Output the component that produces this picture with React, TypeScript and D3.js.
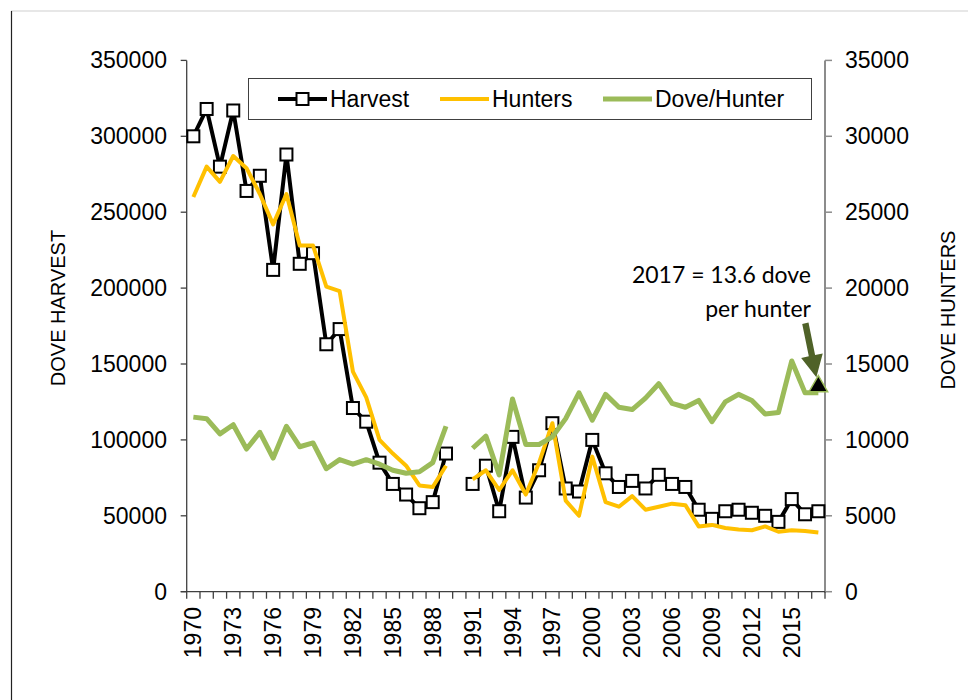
import React from 'react';
import * as d3 from 'd3';

const years = [1970,1971,1972,1973,1974,1975,1976,1977,1978,1979,1980,1981,1982,1983,1984,1985,1986,1987,1988,1989,1990,1991,1992,1993,1994,1995,1996,1997,1998,1999,2000,2001,2002,2003,2004,2005,2006,2007,2008,2009,2010,2011,2012,2013,2014,2015,2016,2017];

const harvest: (number | null)[] = [300000,318000,280000,317000,264000,274000,212000,288000,216000,223000,163000,173000,121000,112000,85000,71000,64000,55000,59000,91000,null,71000,83000,53000,102000,62000,80000,111000,68000,66000,100000,78000,69000,73000,68000,77000,71000,69000,54000,48000,53000,54000,52000,50000,46000,61000,51000,53000];

const hunters: (number | null)[] = [26000,28000,27000,28700,27900,26200,24200,26200,22800,22800,20100,19800,14500,12800,10000,9100,8300,7000,6900,8300,null,7400,8000,6700,8000,6400,8500,11100,6000,5000,8900,5900,5600,6300,5400,5600,5800,5700,4300,4400,4200,4100,4050,4300,3950,4050,4000,3900];

const dovePerHunter: (number | null)[] = [11.5,11.4,10.4,11.0,9.4,10.5,8.8,10.9,9.55,9.8,8.1,8.7,8.4,8.7,8.4,8.0,7.8,7.9,8.5,10.9,null,9.45,10.25,7.7,12.7,9.7,9.7,10.2,11.4,13.1,11.3,13.0,12.15,12.0,12.75,13.7,12.4,12.15,12.6,11.2,12.5,13.0,12.6,11.7,11.8,15.2,13.1,13.1];

const highlightYear = 2017;
const highlightValue = 13.6;

const leftTicks = [0,50000,100000,150000,200000,250000,300000,350000];
const rightTicks = [0,5000,10000,15000,20000,25000,30000,35000];
const labelYears = [1970,1973,1976,1979,1982,1985,1988,1991,1994,1997,2000,2003,2006,2009,2012,2015];

const legendItems = ['Harvest', 'Hunters', 'Dove/Hunter'];
const annotationLines = ['2017 = 13.6 dove', 'per hunter'];

const FONT = '"Liberation Sans", Arial, sans-serif';

export default function App() {
  const W = 968, H = 700;
  const plotL = 186.7, plotR = 825, plotT = 60.4, plotB = 591.7;
  const x = d3.scaleBand<number>().domain(years).range([plotL, plotR]).padding(0);
  const cx = (yr: number) => (x(yr) as number) + x.bandwidth() / 2;
  const yL = d3.scaleLinear().domain([0, 350000]).range([plotB, plotT]);
  const yR = d3.scaleLinear().domain([0, 35000]).range([plotB, plotT]);

  const mk = (vals: (number | null)[], sc: (v: number) => number) =>
    d3.line<number | null>()
      .defined((d) => d !== null)
      .x((_, i) => cx(years[i]))
      .y((d) => sc(d as number))(vals) || '';

  const harvestPath = mk(harvest, yL);
  const huntersPath = mk(hunters, yR);
  const dovePath = mk(dovePerHunter, (v) => yR(v * 1000));

  const triX = cx(highlightYear);
  const triY = yR(highlightValue * 1000);
  const triSym = d3.symbol().type(d3.symbolTriangle).size(150)() || '';

  // arrow
  const arrowStart = { x: triX - 13, y: triY - 62 };
  const arrowEnd = { x: triX - 2, y: triY - 8 };
  const ang = Math.atan2(arrowEnd.y - arrowStart.y, arrowEnd.x - arrowStart.x);
  const headLen = 22, headW = 11, shaftW = 3.2;
  const ux = Math.cos(ang), uy = Math.sin(ang);
  const px = -uy, py = ux;
  const hb = { x: arrowEnd.x - ux * headLen, y: arrowEnd.y - uy * headLen };
  const arrowPts = [
    [arrowStart.x + px * shaftW, arrowStart.y + py * shaftW],
    [hb.x + px * shaftW, hb.y + py * shaftW],
    [hb.x + px * headW, hb.y + py * headW],
    [arrowEnd.x, arrowEnd.y],
    [hb.x - px * headW, hb.y - py * headW],
    [hb.x - px * shaftW, hb.y - py * shaftW],
    [arrowStart.x - px * shaftW, arrowStart.y - py * shaftW],
  ].map((p) => p.join(',')).join(' ');

  const legendY = 99;
  const legendX = [278, 440, 603];
  const legendColors = ['#000000', '#FFC000', '#9BBB59'];
  const legendWidths = [4, 4, 5];

  return (
    <div style={{ position: 'absolute', left: 0, top: 0, width: W, height: H, background: '#fff' }}>
      <svg width={W} height={H} style={{ display: 'block' }} fontFamily={FONT}>
        <rect x={0} y={0} width={W} height={H} fill="#fff" />
        {/* frame */}
        <line x1={11} y1={11} x2={W} y2={11} stroke="#d0d0d0" strokeWidth={1.2} />
        <line x1={11.5} y1={11} x2={11.5} y2={H} stroke="#222" strokeWidth={1.2} />

        {/* axes */}
        <line x1={plotL} y1={plotT} x2={plotL} y2={plotB} stroke="#404040" strokeWidth={1.3} />
        <line x1={plotR} y1={plotT} x2={plotR} y2={plotB + 1} stroke="#8c8c8c" strokeWidth={2} />
        <line x1={plotL - 6} y1={plotB} x2={plotR} y2={plotB} stroke="#404040" strokeWidth={1.3} />
        {leftTicks.map((t) => (
          <g key={'lt' + t}>
            <line x1={plotL - 6} x2={plotL} y1={yL(t)} y2={yL(t)} stroke="#404040" strokeWidth={1.3} />
            <text x={167} y={yL(t)} dy="0.35em" textAnchor="end" fontSize={23} fill="#000">{t}</text>
          </g>
        ))}
        {rightTicks.map((t) => (
          <g key={'rt' + t}>
            <line x1={plotR} x2={plotR + 7} y1={yR(t)} y2={yR(t)} stroke="#8c8c8c" strokeWidth={1.5} />
            <text x={845} y={yR(t)} dy="0.35em" textAnchor="start" fontSize={23} fill="#000">{t}</text>
          </g>
        ))}
        {years.concat([years[years.length - 1] + 1]).map((yr, i) => {
          const xx = plotL + i * x.bandwidth();
          return <line key={'xt' + i} x1={xx} x2={xx} y1={plotB} y2={plotB + 7} stroke="#404040" strokeWidth={1.3} />;
        })}
        {labelYears.map((yr) => (
          <text key={'xl' + yr} transform={`translate(${cx(yr)},${607}) rotate(-90)`} textAnchor="end" dy="0.35em" fontSize={23} fill="#000">{yr}</text>
        ))}

        {/* axis titles */}
        <text transform={`translate(58,308) rotate(-90)`} textAnchor="middle" dy="0.35em" fontSize={20} fill="#000">DOVE HARVEST</text>
        <text transform={`translate(948,310) rotate(-90)`} textAnchor="middle" dy="0.35em" fontSize={20} fill="#000">DOVE HUNTERS</text>

        {/* series */}
        <path d={harvestPath} fill="none" stroke="#000" strokeWidth={4} strokeLinejoin="round" />
        {harvest.map((v, i) => v === null ? null : (
          <rect key={'sq' + i} x={cx(years[i]) - 6} y={yL(v) - 6} width={12} height={12} fill="#fff" stroke="#000" strokeWidth={2} />
        ))}
        <path d={huntersPath} fill="none" stroke="#FFC000" strokeWidth={4} strokeLinejoin="round" />
        <path d={dovePath} fill="none" stroke="#9BBB59" strokeWidth={5} strokeLinejoin="round" />
        <path d={triSym} transform={`translate(${triX},${triY + 1})`} fill="#000" stroke="#9BBB59" strokeWidth={1.5} />

        {/* annotation */}
        <polygon points={arrowPts} fill="#4F6228" />
        {annotationLines.map((l, i) => (
          <text key={'an' + i} x={811} y={283 + i * 34} textAnchor="end" fontSize={23} fontFamily="Lato, 'Open Sans', sans-serif" fill="#000">{l}</text>
        ))}

        {/* legend */}
        <rect x={248.5} y={78.5} width={563} height={41} fill="#fff" stroke="#404040" strokeWidth={1} />
        {legendItems.map((name, i) => (
          <g key={'lg' + i}>
            <line x1={legendX[i]} x2={legendX[i] + 49} y1={legendY} y2={legendY} stroke={legendColors[i]} strokeWidth={legendWidths[i]} />
            {i === 0 && <rect x={legendX[i] + 24.5 - 6} y={legendY - 6} width={12} height={12} fill="#fff" stroke="#000" strokeWidth={2} />}
            <text x={legendX[i] + 52} y={legendY} dy="0.35em" fontSize={23} fill="#000">{name}</text>
          </g>
        ))}
      </svg>
    </div>
  );
}
